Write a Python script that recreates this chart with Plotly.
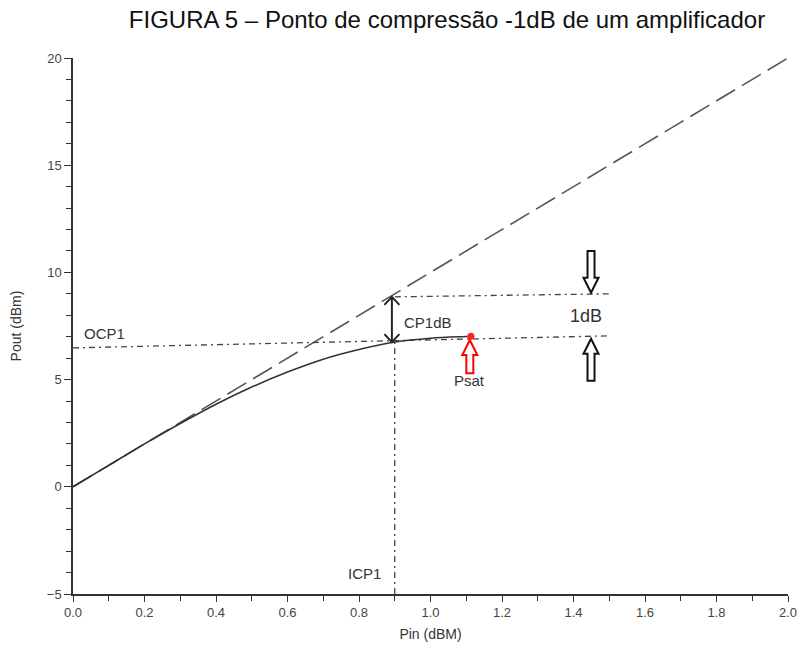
import plotly.graph_objects as go

# ---- data ----
pin_curve = [0.0, 0.1, 0.2, 0.3, 0.4, 0.5, 0.6, 0.7, 0.8, 0.9, 1.0, 1.1, 1.113]
pout_curve = [0.0, 1.0, 2.0, 2.95, 3.85, 4.65, 5.35, 5.95, 6.4, 6.75, 6.93, 7.01, 7.02]
pin_linear = [0.0, 2.0]
pout_linear = [0.0, 20.0]
psat_pin = [1.113]
psat_pout = [7.02]
ocp_line_x = [0.0, 1.5]
ocp_line_y = [6.48, 7.04]
top_line_x = [0.9, 1.5]
top_line_y = [8.86, 9.0]
icp_line_x = [0.9, 0.9]
icp_line_y = [-5.0, 6.75]
cp_arrow_x = 0.892
cp_arrow_y = [6.75, 8.86]
hollow_arrows = [  # (x, tail_y, tip_y, color)
    (1.449, 11.0, 9.05, "#111111"),
    (1.449, 4.95, 6.9, "#111111"),
    (1.11, 5.3, 6.85, "#ff0000"),
]
labels = [  # (text, x, y, size, xanchor)
    ("OCP1", 0.025, 7.13, 15, "left"),
    ("CP1dB", 0.92, 7.65, 15, "left"),
    ("1dB", 1.435, 7.98, 18, "center"),
    ("Psat", 1.11, 4.94, 15, "center"),
    ("ICP1", 0.814, -4.06, 15, "center"),
]
title_text = "FIGURA 5 – Ponto de compressão -1dB de um amplificador"

# pixel scale helpers (plot area 715 x 536 px)
PX_X = 2.0 / 715.0
PX_Y = 25.0 / 536.0

fig = go.Figure()
dashdot = "6px,4px,2px,4px"
fig.add_trace(go.Scatter(x=pin_linear, y=pout_linear, mode="lines",
                         line=dict(color="#555555", width=1.6, dash="22px,8px"), hoverinfo="skip"))
fig.add_trace(go.Scatter(x=ocp_line_x, y=ocp_line_y, mode="lines",
                         line=dict(color="#444444", width=1.3, dash=dashdot), hoverinfo="skip"))
fig.add_trace(go.Scatter(x=top_line_x, y=top_line_y, mode="lines",
                         line=dict(color="#444444", width=1.3, dash=dashdot), hoverinfo="skip"))
fig.add_trace(go.Scatter(x=icp_line_x, y=icp_line_y, mode="lines",
                         line=dict(color="#444444", width=1.3, dash=dashdot), hoverinfo="skip"))
fig.add_trace(go.Scatter(x=pin_curve, y=pout_curve, mode="lines", line_shape="spline",
                         line=dict(color="#333333", width=1.6), hoverinfo="skip"))
fig.add_trace(go.Scatter(x=psat_pin, y=psat_pout, mode="markers",
                         marker=dict(color="#ff2020", size=7), hoverinfo="skip"))

shapes = []
# double-headed chevron arrow (CP1dB)
hw, hh = 7.5 * PX_X, 8 * PX_Y
y_lo, y_hi = cp_arrow_y
shapes.append(dict(type="line", xref="x", yref="y", x0=cp_arrow_x, x1=cp_arrow_x,
                   y0=y_lo, y1=y_hi, line=dict(color="#222222", width=2)))
shapes.append(dict(type="path", xref="x", yref="y",
                   path=f"M{cp_arrow_x-hw},{y_hi-hh} L{cp_arrow_x},{y_hi} L{cp_arrow_x+hw},{y_hi-hh}",
                   line=dict(color="#222222", width=2)))
shapes.append(dict(type="path", xref="x", yref="y",
                   path=f"M{cp_arrow_x-hw},{y_lo+hh} L{cp_arrow_x},{y_lo} L{cp_arrow_x+hw},{y_lo+hh}",
                   line=dict(color="#222222", width=2)))

# hollow block arrows
for x, tail, tip, col in hollow_arrows:
    d = 1 if tip > tail else -1
    sw, hw2, hl = 3.5 * PX_X, 7.5 * PX_X, 15 * PX_Y
    neck = tip - d * hl
    path = (f"M{x-sw},{tail} L{x-sw},{neck} L{x-hw2},{neck} L{x},{tip} "
            f"L{x+hw2},{neck} L{x+sw},{neck} L{x+sw},{tail} Z")
    shapes.append(dict(type="path", xref="x", yref="y", path=path,
                       line=dict(color=col, width=2), fillcolor="white"))

annotations = []
for text, x, y, size, xa in labels:
    annotations.append(dict(text=text, x=x, y=y, xref="x", yref="y", showarrow=False,
                            xanchor=xa, yanchor="middle",
                            font=dict(family="Liberation Sans, Arial", size=size, color="#333333")))

fig.update_layout(
    width=799, height=649,
    margin=dict(l=73, r=11, t=58, b=55),
    paper_bgcolor="white", plot_bgcolor="white",
    showlegend=False,
    shapes=shapes, annotations=annotations,
    title=dict(text=title_text, x=447 / 799, xref="container", xanchor="center",
               y=1 - 20 / 649, yref="container", yanchor="middle",
               font=dict(family="Liberation Sans, Arial", size=24, color="#111111")),
    font=dict(family="Liberation Sans, Arial"),
)
fig.update_xaxes(range=[0, 2], dtick=0.2, tick0=0, tickformat=".1f", automargin=False,
                 showline=True, linecolor="#333333", linewidth=1.5,
                 ticks="outside", ticklen=6, tickwidth=1.3, tickcolor="#333333",
                 minor=dict(dtick=0.1, ticks="outside", ticklen=5, tickcolor="#333333", tickwidth=1.3),
                 showgrid=False, zeroline=False,
                 tickfont=dict(size=13, color="#444444"),
                 title=dict(text="Pin (dBM)", font=dict(size=14, color="#333333"), standoff=10))
fig.update_yaxes(range=[-5, 20], dtick=5, tick0=0, automargin=False,
                 showline=True, linecolor="#333333", linewidth=1.5,
                 ticks="outside", ticklen=7, tickwidth=1.3, tickcolor="#333333",
                 minor=dict(dtick=1, ticks="outside", ticklen=5, tickcolor="#333333", tickwidth=1.3),
                 showgrid=False, zeroline=False,
                 tickfont=dict(size=13, color="#444444"),
                 title=dict(text="Pout (dBm)", font=dict(size=14, color="#333333"), standoff=22))

fig.write_html("out.html")
